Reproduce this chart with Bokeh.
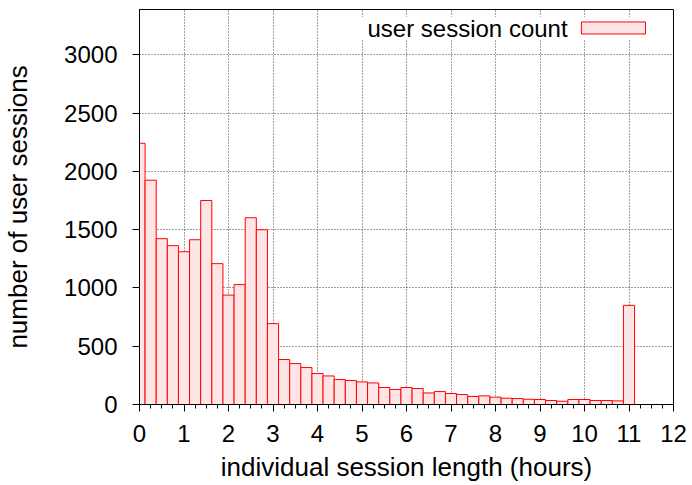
from bokeh.plotting import figure
from bokeh.models import Range1d, Label, SingleIntervalTicker, ColumnDataSource
from bokeh.embed import file_html
from bokeh.resources import INLINE

# bin centres (hours) and session counts per bin
bin_hours = [0.0, 0.25, 0.5, 0.75, 1.0, 1.25, 1.5, 1.75, 2.0, 2.25, 2.5, 2.75,
             3.0, 3.25, 3.5, 3.75, 4.0, 4.25, 4.5, 4.75, 5.0, 5.25, 5.5, 5.75,
             6.0, 6.25, 6.5, 6.75, 7.0, 7.25, 7.5, 7.75, 8.0, 8.25, 8.5, 8.75,
             9.0, 9.25, 9.5, 9.75, 10.0, 10.25, 10.5, 10.75, 11.0]
session_counts = [2242, 1925, 1423, 1363, 1311, 1414, 1751, 1209, 939, 1029, 1603, 1500,
                  694, 386, 351, 317, 266, 245, 214, 206, 194, 185, 146, 129,
                  146, 137, 99, 111, 94, 86, 69, 74, 63, 54, 51, 45,
                  43, 34, 28, 43, 43, 34, 34, 31, 851]
bin_width = 0.25
series_name = "user session count"
x_label = "individual session length (hours)"
y_label = "number of user sessions"

FONT = "Liberation Sans"
FILL = "#ffe6e6"
EDGE = "#ff0000"

p = figure(width=692, height=485, output_backend="svg", toolbar_location=None,
           x_range=Range1d(0, 12), y_range=Range1d(0, 3390),
           min_border_left=139, min_border_right=19, min_border_top=9, min_border_bottom=81)
p.background_fill_color = "white"
p.border_fill_color = "white"
p.outline_line_color = "black"
p.outline_line_width = 1
p.outline_line_alpha = 1

src = ColumnDataSource(dict(x=bin_hours, top=session_counts))
p.vbar(x="x", top="top", bottom=0, width=bin_width, source=src,
       fill_color=FILL, line_color=EDGE, line_width=1)

# axes
p.xaxis.ticker = SingleIntervalTicker(interval=1, num_minor_ticks=4)
p.yaxis.ticker = SingleIntervalTicker(interval=500, num_minor_ticks=0)
for ax in (p.xaxis[0], p.yaxis[0]):
    ax.axis_line_color = "black"
    ax.major_tick_line_color = "black"
    ax.minor_tick_line_color = "black"
    ax.major_tick_in = 0
    ax.major_tick_out = 7
    ax.minor_tick_in = 0
    ax.minor_tick_out = 4
    ax.major_label_text_font = FONT
    ax.major_label_text_font_size = "24px"
    ax.major_label_text_color = "black"
    ax.axis_label_text_font = FONT
    ax.axis_label_text_font_size = "26px"
    ax.axis_label_text_font_style = "normal"
    ax.axis_label_text_color = "black"
p.yaxis.minor_tick_line_color = None
p.xaxis.major_label_standoff = 13
p.yaxis.major_label_standoff = 15
p.xaxis.axis_label = x_label
p.yaxis.axis_label = y_label
p.xaxis.axis_label_standoff = 7
p.yaxis.axis_label_standoff = 28

for g in (p.xgrid[0], p.ygrid[0]):
    g.grid_line_color = "#404040"
    g.grid_line_dash = "1 2"
    g.grid_line_width = 1

# legend (gnuplot style: text then sample on the right)
p.quad(left=[4.85], right=[11.6], bottom=[3137], top=[3326],
       fill_color="white", line_color=None)
p.quad(left=[9.93], right=[11.37], bottom=[3180], top=[3283],
       fill_color=FILL, line_color=EDGE, line_width=1)
p.add_layout(Label(x=9.62, y=3231, text=series_name, text_align="right",
                   text_baseline="middle", text_font=FONT, text_font_size="24px",
                   text_color="black"))

open("out.html", "w").write(file_html(p, INLINE))
